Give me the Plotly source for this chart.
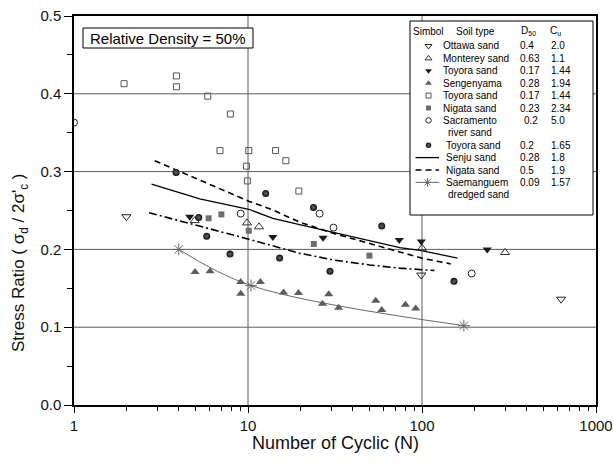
import math
import plotly.graph_objects as go

# ---------------- data ----------------
ottawa_n = [2.0, 99.0, 630.0]
ottawa_sr = [0.242, 0.167, 0.136]

monterey_n = [4.94, 9.87, 11.57, 100.0, 300.0]
monterey_sr = [0.237, 0.234, 0.229, 0.2015, 0.196]

toyora_tri_n = [4.62, 13.9, 27.0, 74.0, 99.1, 237.0]
toyora_tri_sr = [0.242, 0.216, 0.215, 0.212, 0.210, 0.200]

seng_n = [4.96, 6.05, 9.08, 9.08, 11.78, 16.0, 19.5, 29.1, 26.8, 33.2, 54.2, 58.7, 80.3, 92.0]
seng_sr = [0.171, 0.172, 0.158, 0.143, 0.158, 0.1445, 0.144, 0.1425, 0.130, 0.125, 0.134, 0.122, 0.129, 0.124]

toyora_sq_n = [1.94, 3.88, 3.88, 5.87, 7.92, 6.9, 10.1, 9.8, 9.92, 14.4, 16.5, 19.6]
toyora_sq_sr = [0.413, 0.423, 0.409, 0.397, 0.374, 0.327, 0.327, 0.307, 0.288, 0.327, 0.314, 0.275]

nigata_sq_n = [5.94, 7.03, 10.1, 23.9, 49.9]
nigata_sq_sr = [0.240, 0.245, 0.224, 0.207, 0.192]

sacr_n = [1.0, 9.08, 25.8, 31.0, 193.0]
sacr_sr = [0.363, 0.246, 0.246, 0.228, 0.169]

toyora_ball_n = [3.86, 5.21, 5.79, 7.88, 12.64, 15.2, 23.8, 29.6, 58.7, 152.7]
toyora_ball_sr = [0.299, 0.241, 0.217, 0.194, 0.272, 0.189, 0.254, 0.172, 0.230, 0.159]

senju_n = [2.79, 5.28, 10.1, 13.9, 19.8, 40.1, 74.5, 99.5, 160.0]
senju_sr = [0.284, 0.265, 0.2516, 0.240, 0.2318, 0.2157, 0.2023, 0.1985, 0.1887]

nigata_ln_n = [2.91, 5.28, 10.1, 13.9, 19.8, 30.8, 74.5, 99.9, 146.0]
nigata_ln_sr = [0.314, 0.289, 0.262, 0.2507, 0.235, 0.2208, 0.1972, 0.1887, 0.1814]

dashdot_n = [2.70, 5.28, 10.1, 19.8, 30.8, 50.0, 74.5, 118.0]
dashdot_sr = [0.2472, 0.2302, 0.2131, 0.1951, 0.1865, 0.180, 0.1759, 0.1728]

saem_n = [4.0, 10.4, 174.0]
saem_sr = [0.200, 0.1535, 0.102]

x_ticks = [1, 10, 100, 1000]
x_ticktext = ["1", "10", "100", "1000"]
y_ticks = [0.0, 0.1, 0.2, 0.3, 0.4, 0.5]
x_grid = [10, 100]
y_grid = [0.1, 0.2, 0.3, 0.4]

legend_names = ["Ottawa sand", "Monterey sand", "Toyora sand", "Sengenyama", "Toyora sand",
                "Nigata sand", "Sacramento", "Toyora sand", "Senju sand", "Nigata sand", "Saemanguem"]
legend_second = ["", "", "", "", "", "", "river sand", "", "", "", "dredged sand"]
legend_d50 = ["0.4", "0.63", "0.17", "0.28", "0.17", "0.23", "0.2", "0.2", "0.28", "0.5", "0.09"]
legend_cu = ["2.0", "1.1", "1.44", "1.94", "1.44", "2.34", "5.0", "1.65", "1.8", "1.9", "1.57"]

# ---------------- styles ----------------
FONT = "Liberation Sans, Arial, sans-serif"
GRAY_FILL = "#5c5c5c"
SQ_FILL = "#6e6e6e"
styles = [
    dict(symbol="triangle-down-open", size=8, color="#222", line=dict(width=1, color="#222")),
    dict(symbol="triangle-up-open", size=8, color="#333", line=dict(width=1, color="#333")),
    dict(symbol="triangle-down", size=8, color="#1a1a1a", line=dict(width=0)),
    dict(symbol="triangle-up", size=8, color=GRAY_FILL, line=dict(width=0)),
    dict(symbol="square-open", size=6, color="#555", line=dict(width=1, color="#555")),
    dict(symbol="square", size=6, color=SQ_FILL, line=dict(width=0)),
    dict(symbol="circle-open", size=7, color="#222", line=dict(width=1, color="#222")),
    dict(symbol="circle", size=7, color="#0d0d0d", line=dict(width=0),
         gradient=dict(type="radial", color="#6a6a6a")),
]
legend_sizes = [6, 6, 6, 6, 5, 5, 5.5, 5.5]
series = [
    (ottawa_n, ottawa_sr), (monterey_n, monterey_sr), (toyora_tri_n, toyora_tri_sr),
    (seng_n, seng_sr), (toyora_sq_n, toyora_sq_sr), (nigata_sq_n, nigata_sq_sr),
    (sacr_n, sacr_sr), (toyora_ball_n, toyora_ball_sr),
]
line_styles = [
    dict(color="black", width=1.3, dash="solid"),
    dict(color="black", width=1.6, dash="6px,4px"),
]
DASHDOT = dict(color="black", width=1.6, dash="8px,3px,2px,3px")
SAEM_LINE = dict(color="#6a6a6a", width=1)
SAEM_MARK = dict(symbol="asterisk-open", size=10, color="#6a6a6a", line=dict(width=1, color="#6a6a6a"))

fig = go.Figure()

# lines
for (xs, ys), st in zip([(senju_n, senju_sr), (nigata_ln_n, nigata_ln_sr)], line_styles):
    fig.add_trace(go.Scatter(x=xs, y=ys, mode="lines", line=st, showlegend=False, hoverinfo="skip"))
fig.add_trace(go.Scatter(x=dashdot_n, y=dashdot_sr, mode="lines", line=DASHDOT, showlegend=False))
fig.add_trace(go.Scatter(x=saem_n, y=saem_sr, mode="lines+markers", line=dict(shape="spline", **SAEM_LINE),
                         marker=SAEM_MARK, showlegend=False))
# markers
for (xs, ys), st in zip(series, styles):
    fig.add_trace(go.Scatter(x=xs, y=ys, mode="markers", marker=st, showlegend=False, cliponaxis=True))

# ---------------- layout geometry ----------------
W, H = 613, 464
L, R, T, B = 74, 17, 16, 59
PW, PH = W - L - R, H - T - B


def fx(px):
    return (px - L) / PW


def fy(py):
    return (H - B - py) / PH


shapes = []
xr = [0, 3]
for v in y_grid:
    shapes.append(dict(type="line", xref="x domain", yref="y", x0=0, x1=1, y0=v, y1=v,
                       line=dict(color="#5a5a5a", width=1), layer="below"))
for v in x_grid:
    f = (math.log10(v) - xr[0]) / (xr[1] - xr[0])
    shapes.append(dict(type="line", xref="x domain", yref="y domain", x0=f, x1=f, y0=0, y1=1,
                       line=dict(color="#5a5a5a", width=1), layer="below"))

# legend box
LX0, LX1, LY0, LY1 = 410, 593, 21, 215
shapes.append(dict(type="rect", xref="paper", yref="paper", x0=fx(LX0), x1=fx(LX1), y0=fy(LY1), y1=fy(LY0),
                   fillcolor="white", line=dict(color="black", width=1), layer="below"))
# relative density box
shapes.append(dict(type="rect", xref="paper", yref="paper", x0=fx(83), x1=fx(253), y0=fy(48), y1=fy(28),
                   fillcolor="white", line=dict(color="black", width=1), layer="below"))

annotations = [
    dict(x=fx(168), y=fy(38), xref="paper", yref="paper", text="Relative Density = 50%",
         showarrow=False, font=dict(size=15, family=FONT, color="black"),
         xanchor="center", yanchor="middle"),
    dict(x=fx(335), y=fy(443), xref="paper", yref="paper", text="Number of Cyclic (N)",
         showarrow=False, font=dict(size=18, family=FONT, color="#111"),
         xanchor="center", yanchor="middle"),
    dict(x=fx(20), y=fy(263), xref="paper", yref="paper",
         text="Stress Ratio ( σ<sub>d</sub> / 2σ'<sub>c</sub> )", textangle=-90,
         showarrow=False, font=dict(size=17, family=FONT, color="#111"),
         xanchor="center", yanchor="middle"),
]

LF = dict(size=10, family=FONT, color="black")
HEAD_Y = 32
ROW0, ROWH = 46, 12.4


def ann(px, py, text):
    return dict(x=fx(px), y=fy(py), xref="paper", yref="paper", text=text, showarrow=False,
                font=LF, xanchor="left", yanchor="middle")


annotations += [ann(410.5, HEAD_Y, "Simbol"), ann(454, HEAD_Y, "Soil type"),
                ann(519, HEAD_Y - 1, "D<sub>50</sub>"), ann(548, HEAD_Y - 1, "C<sub>u</sub>")]

row = 0
row_pos = []
for i, name in enumerate(legend_names):
    py = ROW0 + ROWH * row
    row_pos.append(py)
    nx = 441.5 if i < 7 else 444
    annotations.append(ann(nx, py, name))
    annotations.append(ann(518 if i != 6 else 522, py, legend_d50[i]))
    annotations.append(ann(549, py, legend_cu[i]))
    row += 1
    if legend_second[i]:
        annotations.append(ann(445.5, ROW0 + ROWH * row, legend_second[i]))
        row += 1

# legend symbols on an auxiliary overlay axis in paper fractions
for i, st in enumerate(styles):
    fig.add_trace(go.Scatter(x=[fx(428.5)], y=[fy(row_pos[i])], mode="markers",
                             marker=dict(st, size=legend_sizes[i]),
                             xaxis="x2", yaxis="y2", showlegend=False, hoverinfo="skip"))
for st, i in zip(line_styles, [8, 9]):
    fig.add_trace(go.Scatter(x=[fx(415.5), fx(439)], y=[fy(row_pos[i])] * 2, mode="lines", line=st,
                             xaxis="x2", yaxis="y2", showlegend=False, hoverinfo="skip"))
fig.add_trace(go.Scatter(x=[fx(415.5), fx(439)], y=[fy(row_pos[10])] * 2, mode="lines", line=SAEM_LINE,
                         xaxis="x2", yaxis="y2", showlegend=False, hoverinfo="skip"))
fig.add_trace(go.Scatter(x=[fx(427.5)], y=[fy(row_pos[10])], mode="markers",
                         marker=dict(SAEM_MARK, size=7),
                         xaxis="x2", yaxis="y2", showlegend=False, hoverinfo="skip"))

axis_common = dict(showline=True, linecolor="black", linewidth=1.5, mirror=True, ticks="outside",
                   tickcolor="black", tickwidth=1.2, showgrid=False, zeroline=False,
                   tickfont=dict(size=15, family=FONT, color="#111"))

minor_x = [m * 10 ** d for d in range(3) for m in range(2, 10)]

fig.update_layout(
    width=W, height=H, margin=dict(l=L, r=R, t=T, b=B),
    paper_bgcolor="white", plot_bgcolor="white",
    showlegend=False,
    xaxis=dict(type="log", range=xr, tickvals=x_ticks, ticktext=x_ticktext, ticklen=6,
               minor=dict(ticks="outside", ticklen=4, tickcolor="black", tickwidth=1,
                          tickmode="array", tickvals=minor_x),
               automargin=False, **axis_common),
    yaxis=dict(range=[0, 0.5], tickvals=y_ticks, tickformat=".1f", ticklen=8,
               minor=dict(ticks="outside", ticklen=5, tickcolor="black", tickwidth=1, dtick=0.05),
               automargin=False, **axis_common),
    xaxis2=dict(overlaying="x", range=[0, 1], visible=False, anchor="y2"),
    yaxis2=dict(overlaying="y", range=[0, 1], visible=False, anchor="x2"),
    shapes=shapes, annotations=annotations,
)

fig.write_html("out.html")
